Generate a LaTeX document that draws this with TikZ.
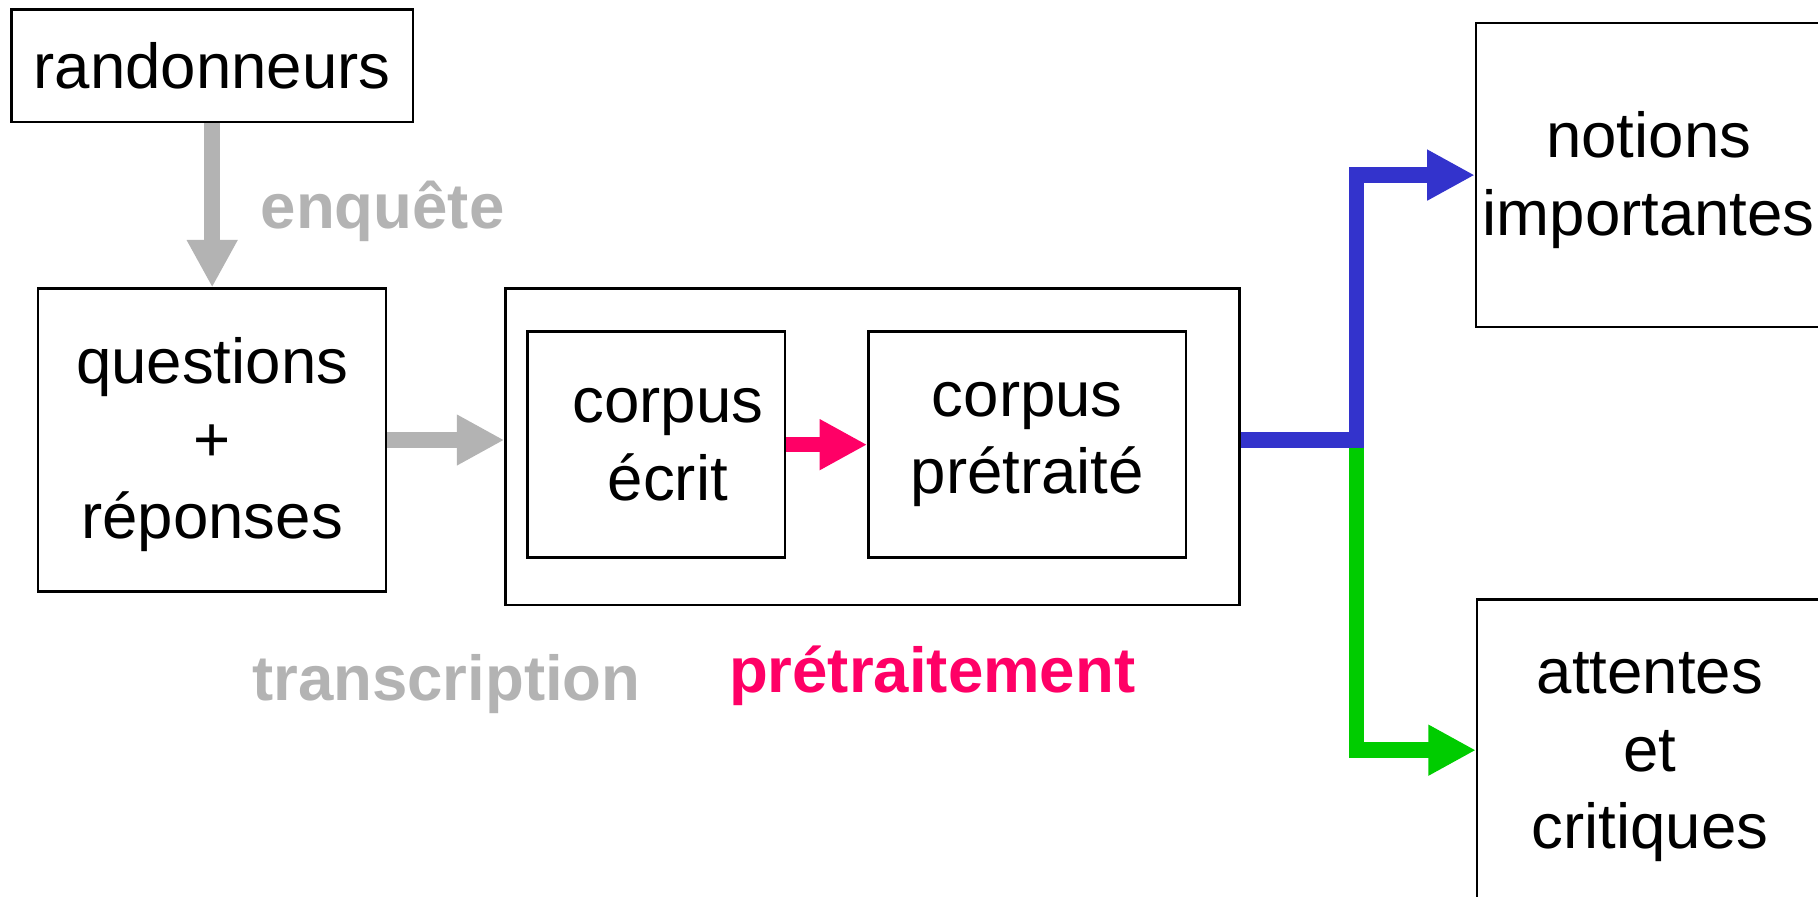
\documentclass[tikz,border=0pt]{standalone}
\usepackage{fontspec}
\setmainfont{Liberation Sans}
\usetikzlibrary{arrows.meta}
\definecolor{lightgrey}{HTML}{B3B3B3}
\definecolor{pinkred}{HTML}{FF0066}
\definecolor{deepblue}{HTML}{3333CC}
\definecolor{brightgreen}{HTML}{00CC00}
\newcommand{\topline}{\rule{0pt}{0.48cm}}
\tikzset{
	box/.style={draw, line width=0.6pt, inner sep=0pt, align=center, font=\fontsize{15.6}{19}\selectfont},
	stage/.style={inner sep=0pt, font=\bfseries\fontsize{15.6}{19}\selectfont},
	fat/.style={line width=0.135cm, line join=miter, -{Triangle[length=0.41cm,width=0.41cm]}},
}

\begin{document}
\begin{tikzpicture}
	\useasboundingbox (0,0) rectangle (15.68,-7.73);
	\clip (0,0) rectangle (15.68,-7.73);
%
	\node[box, minimum width=3.46cm, minimum height=0.97cm] (hikers) at (1.83,-0.565) {randonneurs};
	\node[box, minimum width=3.00cm, minimum height=2.61cm] (quest) at (1.83,-3.795) {\topline questions\\+\\réponses};
	\node[box, minimum width=6.33cm, minimum height=2.73cm] (outer) at (7.525,-3.855) {};
	\node[box, minimum width=2.22cm, minimum height=1.95cm] (written) at (5.66,-3.835) {\hspace*{0.2cm}corpus\\\hspace*{0.2cm}écrit};
	\node[box, minimum width=2.74cm, minimum height=1.95cm] (cleaned) at (8.86,-3.835) {corpus\\prétraité};
	\node[box, minimum width=2.98cm, minimum height=2.62cm] (notions) at (14.22,-1.51) {\topline notions\\importantes};
	\node[box, minimum width=2.98cm, minimum height=2.60cm] (attentes) at (14.23,-6.47) {\topline attentes\\et\\critiques};
%
	\node[stage, text=lightgrey] (survey) at (3.30,-1.82) {enquête};
	\node[stage, text=lightgrey] (transcr) at (3.85,-5.90) {transcription};
	\node[stage, text=pinkred] (pretr) at (8.04,-5.83) {prétraitement};
%
	\draw[fat, lightgrey] (hikers.south) -- (quest.north);
	\draw[fat, lightgrey] (quest.east) -- (quest.east -| outer.west);
	\draw[fat, pinkred] (written.east) -- (cleaned.west);
%
	\coordinate (split) at (11.70,-3.795);
	\draw[fat, brightgreen] (split) |- (attentes.west);
	\draw[fat, deepblue] (split -| outer.east) -- (split) |- (notions.west);
\end{tikzpicture}
\end{document}
